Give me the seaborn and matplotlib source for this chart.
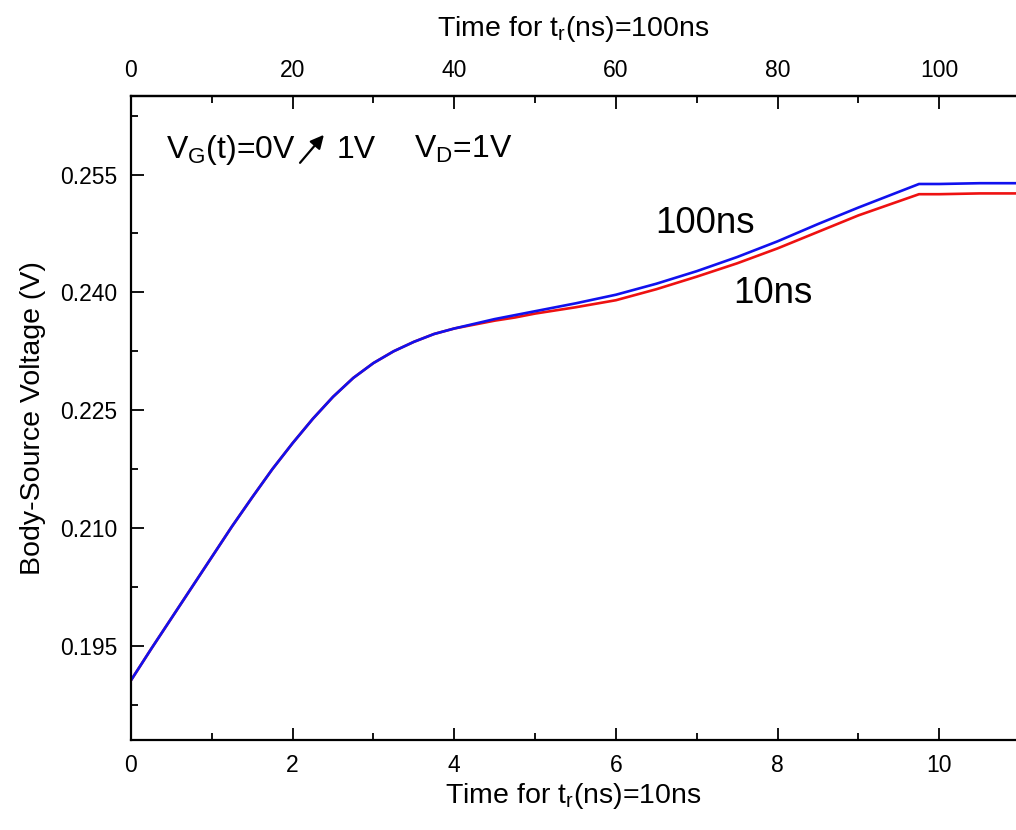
import numpy as np
import pandas as pd
import matplotlib
matplotlib.use("Agg")
import matplotlib.pyplot as plt
from matplotlib.ticker import MultipleLocator
import seaborn as sns

# ---- data ----
time_ns = [0, 0.25, 0.5, 0.75, 1, 1.25, 1.5, 1.75, 2, 2.25, 2.5, 2.75, 3,
           3.25, 3.5, 3.75, 4, 4.25, 4.5, 4.75, 5, 5.5, 6, 6.5, 7, 7.5, 8,
           8.5, 9, 9.5, 9.75, 10, 10.5, 11]
v_100ns = [0.1906, 0.1946, 0.1985, 0.2024, 0.2063, 0.2102, 0.2139, 0.2175,
           0.2208, 0.2239, 0.2267, 0.2291, 0.2310, 0.2325, 0.2337, 0.2347,
           0.2354, 0.2360, 0.2366, 0.2371, 0.2376, 0.2386, 0.2397, 0.2411,
           0.2427, 0.2445, 0.2465, 0.2487, 0.2508, 0.2528, 0.2538, 0.2538,
           0.2539, 0.2539]
v_10ns = [0.1906, 0.1946, 0.1985, 0.2024, 0.2063, 0.2102, 0.2139, 0.2175,
          0.2208, 0.2239, 0.2267, 0.2291, 0.2310, 0.2325, 0.2337, 0.2347,
          0.2354, 0.2359, 0.2364, 0.2368, 0.2373, 0.2381, 0.2390, 0.2404,
          0.2420, 0.2437, 0.2456, 0.2477, 0.2498, 0.2516, 0.2525, 0.2525,
          0.2526, 0.2526]
y_ticks = [0.195, 0.210, 0.225, 0.240, 0.255]
x_ticks = [0, 2, 4, 6, 8, 10]
top_ticks = [0, 20, 40, 60, 80, 100]

df = pd.DataFrame({
    "t": time_ns * 2,
    "v": v_10ns + v_100ns,
    "series": ["10ns"] * len(time_ns) + ["100ns"] * len(time_ns),
})

sns.set_theme(style="ticks")
plt.rcParams["font.family"] = ["Liberation Sans", "DejaVu Sans"]
plt.rcParams["mathtext.default"] = "regular"
for k in ["text.color", "axes.labelcolor", "xtick.color", "ytick.color",
          "axes.edgecolor"]:
    plt.rcParams[k] = "black"

fig = plt.figure(figsize=(10.16, 8.30), dpi=100)
ax = fig.add_axes([0.1289, 0.1084, 0.8711, 0.7759])

sns.lineplot(data=df, x="t", y="v", hue="series",
             palette={"10ns": "#ee1111", "100ns": "#1111ee"},
             hue_order=["10ns", "100ns"], linewidth=1.9, legend=False,
             sort=False, ax=ax)

ax.set_xlim(0, 10.95)
ax.set_ylim(0.183, 0.265)
ax.set_xticks(x_ticks)
ax.set_yticks(y_ticks)
ax.set_yticklabels([f"{v:.3f}" for v in y_ticks])
ax.xaxis.set_minor_locator(MultipleLocator(1))
ax.yaxis.set_minor_locator(MultipleLocator(0.0075))

for s in ["left", "bottom", "top"]:
    ax.spines[s].set_linewidth(1.6)
    ax.spines[s].set_color("black")
ax.spines["right"].set_visible(False)

ax.tick_params(which="major", direction="in", length=9, width=1.3,
               labelsize=16.5, pad=10)
ax.tick_params(which="minor", direction="in", length=5, width=1.3)
ax.tick_params(axis="x", which="both", top=False)
ax.tick_params(axis="y", right=False, which="both")

ax.set_xlabel("Time for t$_r$(ns)=10ns", fontsize=20.5, labelpad=3)
ax.set_ylabel("Body-Source Voltage (V)", fontsize=20.5, labelpad=10)

sec = ax.secondary_xaxis("top", functions=(lambda x: x * 10, lambda x: x / 10))
sec.set_xticks(top_ticks)
sec.xaxis.set_minor_locator(MultipleLocator(10))
sec.tick_params(which="major", direction="in", length=9, width=1.3,
                labelsize=16.5, pad=10)
sec.tick_params(which="minor", direction="in", length=5, width=1.3)
sec.spines["top"].set_linewidth(1.6)
sec.set_xlabel("Time for t$_r$(ns)=100ns", fontsize=20.5, labelpad=17)

# annotations
ax.text(0.04, 0.904, "V$_G$(t)=0V", transform=ax.transAxes, fontsize=23,
        ha="left", va="baseline")
ax.annotate("", xy=(0.220, 0.943), xytext=(0.189, 0.893),
            xycoords="axes fraction", textcoords="axes fraction",
            arrowprops=dict(arrowstyle="-|>", color="black", lw=1.6,
                            mutation_scale=20))
ax.text(0.232, 0.904, "1V", transform=ax.transAxes, fontsize=23,
        ha="left", va="baseline")
ax.text(0.320, 0.904, "V$_D$=1V", transform=ax.transAxes, fontsize=23,
        ha="left", va="baseline")
ax.text(6.485, 0.2476, "100ns", fontsize=26.5, ha="left", va="baseline")
ax.text(7.45, 0.2387, "10ns", fontsize=26.5, ha="left", va="baseline")

fig.savefig("out.png", dpi=100)
